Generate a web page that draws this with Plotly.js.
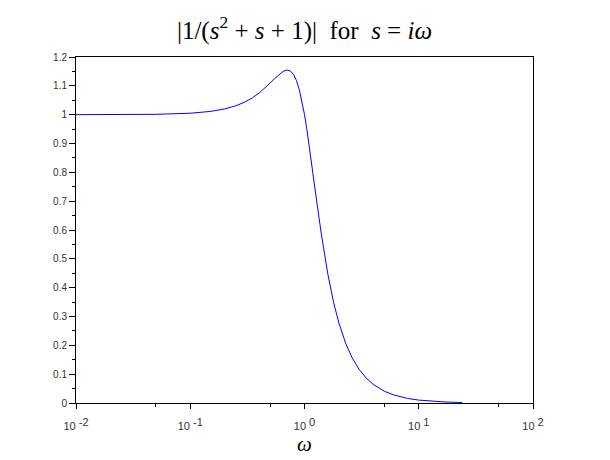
<!DOCTYPE html>
<html>
<head>
<meta charset="utf-8">
<script src="https://cdn.plot.ly/plotly-3.0.1.min.js"></script>
<style>html,body{margin:0;padding:0;background:#fff;}#plot{width:610px;height:460px;}</style>
</head>
<body>
<div id="plot"></div>
<script>
// omega values and magnitude
const omega = [0.01, 0.02, 0.05, 0.1, 0.15, 0.2, 0.25, 0.3, 0.35, 0.4, 0.45, 0.5, 0.55, 0.6, 0.65, 0.7, 0.75, 0.8, 0.85, 0.9, 0.95, 1.0, 1.05, 1.1, 1.15, 1.2, 1.3, 1.4, 1.5, 1.6, 1.8, 2.0, 2.3, 2.6, 3.0, 3.5, 4.0, 5.0, 6.0, 8.0, 10, 13, 17, 24];
const magnitude = [1.0000, 1.0002, 1.0012, 1.0050, 1.0112, 1.0198, 1.0307, 1.0436, 1.0585, 1.0748, 1.0921, 1.1094, 1.1258, 1.1399, 1.1501, 1.1546, 1.1517, 1.1399, 1.1184, 1.0871, 1.0471, 1.0000, 0.9479, 0.8930, 0.8373, 0.7824, 0.6795, 0.5891, 0.5121, 0.4475, 0.3480, 0.2774, 0.2054, 0.1582, 0.1170, 0.0849, 0.0644, 0.0408, 0.0282, 0.0157, 0.0101, 0.0059, 0.0035, 0.0017];
const xTickVals = [0.01, 0.1, 1, 10, 100];
const xTickExp = ['-2', '-1', '0', '1', '2'];
const xMinorVals = [0.05, 0.5, 5, 50];
const yTickVals = [0, 0.1, 0.2, 0.3, 0.4, 0.5, 0.6, 0.7, 0.8, 0.9, 1, 1.1, 1.2];
const yTickText = ['0', '0.1', '0.2', '0.3', '0.4', '0.5', '0.6', '0.7', '0.8', '0.9', '1', '1.1', '1.2'];

const xTickText = xTickExp.map(e => '10 <sup><span style="font-size:11px">' + e + '</span></sup>');

const trace = {
  x: omega, y: magnitude, type: 'scatter', mode: 'lines',
  line: {color: '#0000ff', width: 1}, hoverinfo: 'none'
};

const layout = {
  width: 610, height: 460,
  margin: {l: 76, r: 77, t: 57, b: 57},
  paper_bgcolor: '#ffffff', plot_bgcolor: '#ffffff',
  showlegend: false,
  title: {
    text: '|1/(<i>s</i><sup>2</sup> + <i>s</i> + 1)|  for  <i>s</i> = <i>iω</i>',
    font: {family: 'Liberation Serif, DejaVu Serif, serif', size: 25, color: '#000'},
    x: 0.5, xanchor: 'center', xref: 'paper',
    y: 0.935, yanchor: 'middle', yref: 'container'
  },
  xaxis: {
    type: 'log', range: [-2, 2],
    tickmode: 'array', tickvals: xTickVals, ticktext: xTickText,
    ticks: 'outside', ticklen: 5, tickwidth: 1, tickcolor: '#000',
    ticklabelstandoff: 8,
    minor: {tickmode: 'array', tickvals: xMinorVals, ticks: 'outside', ticklen: 3, tickcolor: '#000', showgrid: false},
    showline: true, linecolor: '#000', linewidth: 1, mirror: true,
    showgrid: false, zeroline: false,
    tickfont: {family: 'Liberation Sans, Arial, sans-serif', size: 11, color: '#333'},
    title: {text: '<i>ω</i>', font: {family: 'Liberation Serif, DejaVu Serif, serif', size: 21, color: '#000'}, standoff: 4}
  },
  yaxis: {
    range: [0, 1.2],
    tickmode: 'array', tickvals: yTickVals, ticktext: yTickText,
    ticks: 'outside', ticklen: 6, tickwidth: 1, tickcolor: '#000',
    minor: {dtick: 0.05, tick0: 0, ticks: 'outside', ticklen: 3, tickcolor: '#000', showgrid: false},
    showline: true, linecolor: '#000', linewidth: 1, mirror: true,
    showgrid: false, zeroline: false,
    tickfont: {family: 'Liberation Sans, Arial, sans-serif', size: 10, color: '#333'}
  }
};

Plotly.newPlot('plot', [trace], layout, {displayModeBar: false, staticPlot: true});
</script>
</body>
</html>
